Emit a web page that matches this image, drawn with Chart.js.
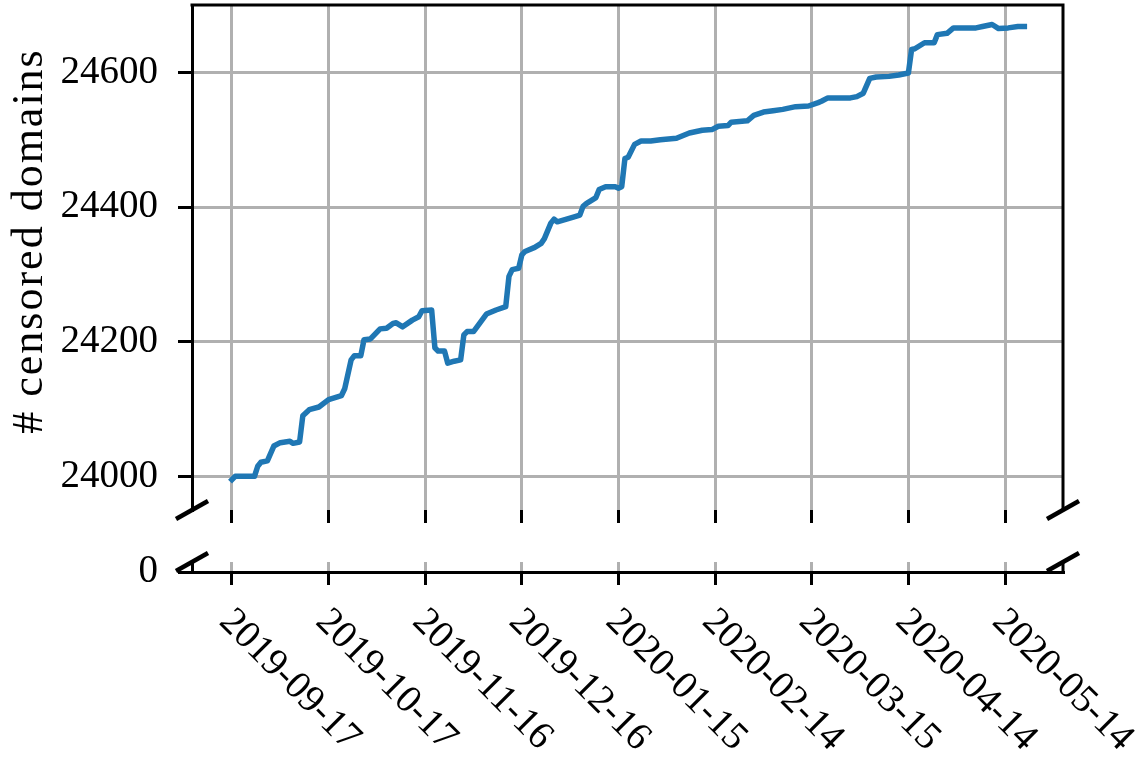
<!DOCTYPE html>
<html>
<head>
<meta charset="utf-8">
<script src="https://cdn.jsdelivr.net/npm/chart.js@4.4.0/dist/chart.umd.min.js"></script>
<style>
  html, body { margin: 0; padding: 0; background: #fff; }
  #wrap { position: relative; width: 1148px; height: 770px; }
  canvas { position: absolute; left: 0; }
</style>
</head>
<body>
<div id="wrap">
  <canvas id="topChart" width="1148" height="523" style="top:0;width:1148px;height:523px"></canvas>
  <canvas id="lowChart" width="1148" height="230" style="top:540px;width:1148px;height:230px"></canvas>
</div>
<script>
// days since 2019-09-17 and the number of censored domains on that day
var days = [0,1,7,8,9,11,13,15,18,19, 21,22,24,27,30,34,35,37,38,40,
  41,43,46,48,50,51,53,56,58,59, 62,63,64,66,67,69,71,72,73,75,
  77,79,82,85,86,87,89,90,91,94, 96,97,99,100,101,106,108,109,110,113,
  114,116,119,120,121,122,123,125,127,130, 133,138,142,146,149,151,154,155,160,162,
  165,168,171,175,179,182,183,185,192,194, 196,198,200,204,207,210,211,212,215,218,
  219,222,224,231,233,236,238,241,244,246];
var domains = [23995,24000,24000,24015,24021,24023,24045,24050,24052,24049,
  24051,24090,24099,24103,24114,24120,24130,24173,24179,24179,
  24203,24204,24219,24220,24227,24228,24222,24232,24237,24246,
  24247,24191,24186,24186,24168,24171,24173,24210,24215,24215,
  24228,24241,24247,24252,24297,24307,24309,24329,24334,24340,
  24346,24353,24376,24382,24378,24385,24388,24401,24405,24414,
  24426,24430,24430,24428,24430,24472,24474,24493,24498,24498,
  24500,24502,24510,24514,24515,24520,24521,24526,24528,24536,
  24541,24543,24545,24549,24550,24555,24557,24562,24562,24564,
  24569,24591,24593,24594,24596,24599,24634,24635,24644,24644,
  24656,24658,24666,24666,24668,24671,24665,24666,24668,24668];

var xTickDays = [0, 30, 60, 90, 120, 150, 180, 210, 240];
var xTickLabels = ['2019-09-17', '2019-10-17', '2019-11-16', '2019-12-16', '2020-01-15',
  '2020-02-14', '2020-03-15', '2020-04-14', '2020-05-14'];
var yTicksTop = [24000, 24200, 24400, 24600];
var yTicksLow = [0];
var yTitle = '# censored domains';

var FONT = '"Liberation Serif", "Times New Roman", serif';
var GRID = '#b0b0b0';
Chart.defaults.font.family = FONT;
Chart.defaults.font.size = 39;
Chart.defaults.color = '#000';

var points = days.map(function(d, i) { return { x: d, y: domains[i] }; });

function lineDataset() {
  return {
    data: points,
    borderColor: '#1f77b4',
    borderWidth: 5.5,
    borderJoinStyle: 'round',
    borderCapStyle: 'square',
    pointRadius: 0,
    tension: 0,
    fill: false
  };
}

function setTicks(list) {
  return function(scale) {
    scale.ticks = list.map(function(v) { return { value: v }; });
  };
}

// fixed axis sizes, and no extra room for half-labels
function fixSize(prop, size) {
  return function(s) {
    s[prop] = size;
    s.paddingTop = 0; s.paddingBottom = 0;
    s.paddingLeft = 0; s.paddingRight = 0;
  };
}

// spines that chart.js doesn't draw + the diagonal "broken axis" marks
function framePlugin(drawTop, breakAt) {
  return {
    id: 'frame',
    afterDraw: function(chart) {
      var a = chart.chartArea, ctx = chart.ctx;
      ctx.save();
      ctx.strokeStyle = '#000';
      ctx.lineWidth = 3;
      ctx.beginPath();
      if (drawTop) {
        ctx.moveTo(a.left - 1.5, a.top);
        ctx.lineTo(a.right + 1.5, a.top);
      }
      ctx.moveTo(a.right, a.top);
      ctx.lineTo(a.right, a.bottom);
      ctx.stroke();

      ctx.lineWidth = 4.5;
      var y = breakAt === 'bottom' ? a.bottom : a.top;
      [a.left, a.right].forEach(function(x) {
        ctx.beginPath();
        ctx.moveTo(x - 16, y + 9);
        ctx.lineTo(x + 16, y - 9);
        ctx.stroke();
      });
      ctx.restore();
    }
  };
}

var yTitlePlugin = {
  id: 'yTitle',
  afterDraw: function(chart) {
    var ctx = chart.ctx;
    ctx.save();
    ctx.translate(30, 241);
    ctx.rotate(-Math.PI / 2);
    ctx.font = '44px ' + FONT;
    ctx.letterSpacing = '2px';
    ctx.fillStyle = '#000';
    ctx.textAlign = 'center';
    ctx.textBaseline = 'middle';
    ctx.fillText(yTitle, 0, 0);
    ctx.restore();
  }
};

var dateLabelPlugin = {
  id: 'dateLabels',
  afterDraw: function(chart) {
    var ctx = chart.ctx, xs = chart.scales.x, y0 = chart.chartArea.bottom + 30;
    ctx.save();
    ctx.font = '39px ' + FONT;
    ctx.fillStyle = '#000';
    ctx.textAlign = 'left';
    ctx.textBaseline = 'top';
    xTickDays.forEach(function(d, i) {
      ctx.save();
      ctx.translate(xs.getPixelForValue(d) + 7, y0);
      ctx.rotate(Math.PI / 4);
      ctx.fillText(xTickLabels[i], 0, 0);
      ctx.restore();
    });
    ctx.restore();
  }
};

var xRange = { min: -12.4, max: 258 };

var topChart = new Chart(document.getElementById('topChart'), {
  type: 'line',
  data: { datasets: [lineDataset()] },
  plugins: [framePlugin(true, 'bottom'), yTitlePlugin],
  options: {
    responsive: false,
    animation: false,
    layout: { padding: { left: 0, right: 85, top: 5, bottom: 0 } },
    plugins: { legend: { display: false }, tooltip: { enabled: false } },
    scales: {
      x: {
        type: 'linear',
        min: xRange.min, max: xRange.max,
        afterBuildTicks: setTicks(xTickDays),
        afterFit: fixSize('height', 13),
        border: { display: false },
        grid: { color: GRID, lineWidth: 3, tickColor: '#000', tickWidth: 3, tickLength: 13 },
        ticks: { display: false }
      },
      y: {
        min: 23950, max: 24700,
        afterBuildTicks: setTicks(yTicksTop),
        afterFit: fixSize('width', 192),
        border: { display: true, color: '#000', width: 3 },
        grid: { color: GRID, lineWidth: 3, tickColor: '#000', tickWidth: 3, tickLength: 14 },
        ticks: { padding: 20, callback: function(v) { return String(v); } }
      }
    }
  }
});

var lowChart = new Chart(document.getElementById('lowChart'), {
  type: 'line',
  data: { datasets: [lineDataset()] },
  plugins: [framePlugin(false, 'top'), dateLabelPlugin],
  options: {
    responsive: false,
    animation: false,
    layout: { padding: { left: 0, right: 85, top: 22, bottom: 0 } },
    plugins: { legend: { display: false }, tooltip: { enabled: false } },
    scales: {
      x: {
        type: 'linear',
        min: xRange.min, max: xRange.max,
        afterBuildTicks: setTicks(xTickDays),
        afterFit: fixSize('height', 198),
        border: { display: true, color: '#000', width: 3 },
        grid: { color: GRID, lineWidth: 3, tickColor: '#000', tickWidth: 3, tickLength: 13 },
        ticks: { display: false }
      },
      y: {
        min: 0, max: 15,
        afterBuildTicks: setTicks(yTicksLow),
        afterFit: fixSize('width', 192),
        border: { display: true, color: '#000', width: 3 },
        grid: { color: '#000', lineWidth: 3, tickColor: '#000', tickWidth: 3, tickLength: 14 },
        ticks: { padding: 20, callback: function(v) { return String(v); } }
      }
    }
  }
});
</script>
</body>
</html>
